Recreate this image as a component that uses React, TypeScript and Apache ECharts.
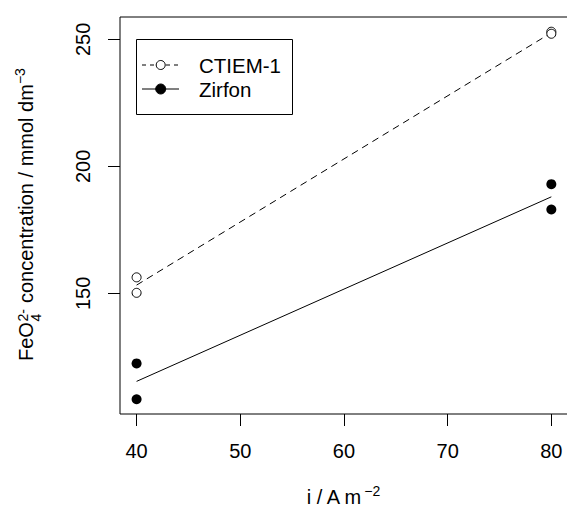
import React, { useEffect, useRef } from "react";
import * as echarts from "echarts";

// ---- data ----
const currentDensity = [40, 40, 80, 80];
const ctiemValues = [156.3, 150.2, 253.0, 252.2];
const zirfonValues = [122.4, 108.3, 193.0, 183.0];
const xTickValues = [40, 50, 60, 70, 80];
const yTickValues = [150, 200, 250];
const seriesNames = ["CTIEM-1", "Zirfon"];

const FONT = "Liberation Sans";
const FS = 20;
const FS_LEG = 20.5;
const FS_SMALL = 14;

function linearFit(xs: number[], ys: number[]): number[][] {
  const n = xs.length;
  const mx = xs.reduce((a, b) => a + b, 0) / n;
  const my = ys.reduce((a, b) => a + b, 0) / n;
  let sxy = 0;
  let sxx = 0;
  for (let i = 0; i < n; i++) {
    sxy += (xs[i] - mx) * (ys[i] - my);
    sxx += (xs[i] - mx) * (xs[i] - mx);
  }
  const b = sxy / sxx;
  const a = my - b * mx;
  const x0 = Math.min(...xs);
  const x1 = Math.max(...xs);
  return [
    [x0, a + b * x0],
    [x1, a + b * x1],
  ];
}

function measure(text: string, size: number): number {
  const c = document.createElement("canvas").getContext("2d");
  if (!c) return text.length * size * 0.55;
  c.font = `${size}px "${FONT}"`;
  return c.measureText(text).width;
}

function txt(text: string, x: number, y: number, size: number) {
  return {
    type: "text",
    x,
    y,
    style: {
      text,
      fontSize: size,
      fontFamily: FONT,
      fill: "#000",
      align: "left",
      verticalAlign: "middle",
      textAlign: "left",
      textVerticalAlign: "middle",
    },
  };
}

export default function App() {
  const ref = useRef<HTMLDivElement>(null);

  useEffect(() => {
    if (!ref.current) return;
    const chart = echarts.init(ref.current, null, { renderer: "svg" });

    const ctiemPts = currentDensity.map((x, i) => [x, ctiemValues[i]]);
    const zirfonPts = currentDensity.map((x, i) => [x, zirfonValues[i]]);
    const ctiemFit = linearFit(currentDensity, ctiemValues);
    const zirfonFit = linearFit(currentDensity, zirfonValues);

    // y-axis title pieces (laid out along local x, group rotated 90deg)
    const p1 = "FeO";
    const pSup = "2-";
    const pSub = "4";
    const p2 = " concentration / mmol dm";
    const pSup2 = "\u22123";
    const w1 = measure(p1, FS);
    const wStack = Math.max(measure(pSup, FS_SMALL), measure(pSub, FS_SMALL));
    const w2 = measure(p2, FS);
    const yTitleChildren = [
      txt(p1, 0, 0, FS),
      txt(pSup, w1 + 0.5, -3, FS_SMALL),
      txt(pSub, w1 + 0.5, 10, FS_SMALL),
      txt(p2, w1 + wStack + 1, 0, FS),
      txt(pSup2, w1 + wStack + 1 + w2, -6, FS_SMALL),
    ];

    // x-axis title
    const xMain = "i / A m";
    const wx = measure(xMain, FS);
    const wxs = measure("\u22122", FS_SMALL);
    const xStart = 343 - (wx + wxs) / 2;

    const legendItems = [
      {
        type: "rect",
        shape: { x: 136.5, y: 39.5, width: 156, height: 75 },
        style: { fill: "#fff", stroke: "#000", lineWidth: 1 },
        z: 10,
      },
      {
        type: "line",
        shape: { x1: 142, y1: 65, x2: 179, y2: 65 },
        style: { stroke: "#000", lineWidth: 1, lineDash: [4, 4] },
        z: 11,
      },
      {
        type: "circle",
        shape: { cx: 160.7, cy: 65, r: 4.5 },
        style: { fill: "#fff", stroke: "#000", lineWidth: 1 },
        z: 12,
      },
      {
        type: "line",
        shape: { x1: 142, y1: 89, x2: 179, y2: 89 },
        style: { stroke: "#000", lineWidth: 1 },
        z: 11,
      },
      {
        type: "circle",
        shape: { cx: 160.7, cy: 89, r: 5 },
        style: { fill: "#000", stroke: "#000", lineWidth: 1 },
        z: 12,
      },
      { ...txt(seriesNames[0], 199, 65, FS_LEG), z: 12 },
      { ...txt(seriesNames[1], 199, 89, FS_LEG), z: 12 },
    ];

    chart.setOption({
      animation: false,
      backgroundColor: "#fff",
      textStyle: { fontFamily: FONT },
      grid: {
        left: 120,
        top: 17,
        width: 450,
        height: 397,
        show: true,
        borderColor: "#000",
        borderWidth: 1,
        backgroundColor: "transparent",
        containLabel: false,
      },
      xAxis: {
        type: "value",
        min: 38.4,
        max: 81.8,
        axisLine: { show: false },
        splitLine: { show: false },
        axisTick: {
          show: true,
          inside: false,
          length: 12,
          customValues: xTickValues,
          lineStyle: { color: "#000", width: 1 },
        },
        axisLabel: {
          customValues: xTickValues,
          margin: 27,
          color: "#000",
          fontSize: FS,
          fontFamily: FONT,
        },
      },
      yAxis: {
        type: "value",
        min: 102.5,
        max: 258.8,
        axisLine: { show: false },
        splitLine: { show: false },
        axisTick: {
          show: true,
          inside: false,
          length: 12,
          customValues: yTickValues,
          lineStyle: { color: "#000", width: 1 },
        },
        axisLabel: {
          customValues: yTickValues,
          rotate: 90,
          margin: 27,
          color: "#000",
          fontSize: FS,
          fontFamily: FONT,
        },
      },
      series: [
        {
          name: seriesNames[0] + " fit",
          type: "line",
          data: ctiemFit,
          showSymbol: false,
          lineStyle: { color: "#000", width: 1, type: [7, 5] },
          silent: true,
        },
        {
          name: seriesNames[1] + " fit",
          type: "line",
          data: zirfonFit,
          showSymbol: false,
          lineStyle: { color: "#000", width: 1 },
          silent: true,
        },
        {
          name: seriesNames[0],
          type: "scatter",
          data: ctiemPts,
          symbol: "circle",
          symbolSize: 9,
          itemStyle: { color: "#fff", borderColor: "#000", borderWidth: 1, opacity: 1 },
          z: 5,
        },
        {
          name: seriesNames[1],
          type: "scatter",
          data: zirfonPts,
          symbol: "circle",
          symbolSize: 10,
          itemStyle: { color: "#000", opacity: 1 },
          z: 5,
        },
      ],
      graphic: [
        {
          type: "group",
          x: 26,
          y: 361,
          rotation: Math.PI / 2,
          children: yTitleChildren,
        },
        txt(xMain, xStart, 497, FS),
        txt("\u22122", xStart + wx + 1, 491, FS_SMALL),
        ...legendItems,
      ],
    });

    return () => chart.dispose();
  }, []);

  return (
    <div
      style={{
        position: "absolute",
        left: 0,
        top: 0,
        width: 567,
        height: 508,
        overflow: "hidden",
      }}
    >
      <div ref={ref} style={{ width: 585, height: 508 }} />
    </div>
  );
}
